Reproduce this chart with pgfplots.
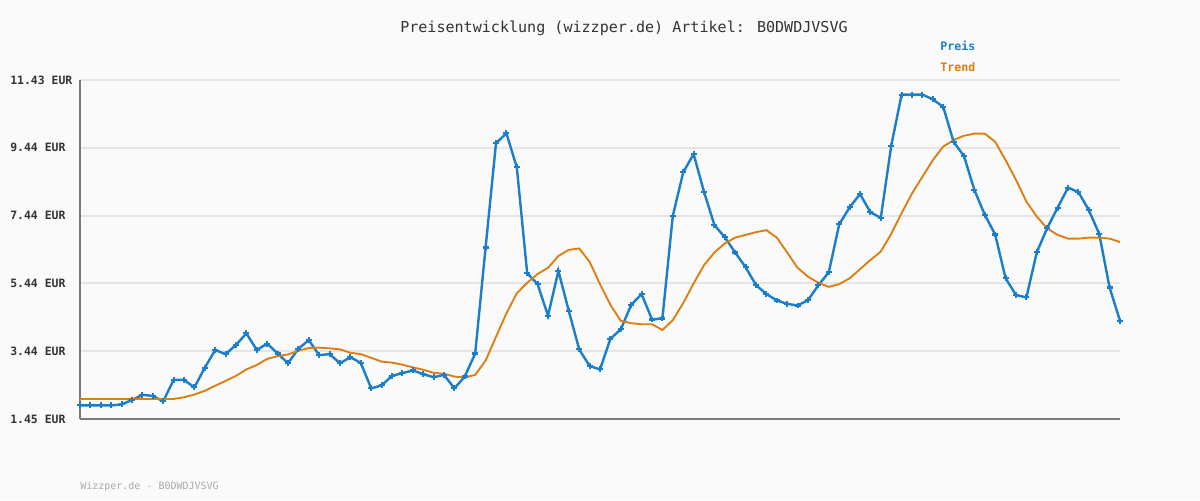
\documentclass[border=0pt]{standalone}
\usepackage{pgfplots}
\pgfplotsset{compat=1.18}
\usepackage{fontspec}
\setmainfont{DejaVu Sans Mono}

\definecolor{bgcol}{HTML}{FAFAFA}
\definecolor{gridcol}{HTML}{E5E5E5}
\definecolor{axiscol}{HTML}{7A7A7A}
\definecolor{preis}{HTML}{1A7ECB}
\definecolor{trend}{HTML}{DF7E10}
\definecolor{labelcol}{HTML}{333333}
\definecolor{footcol}{HTML}{AAAAAA}

% Preisverlauf, ein Punkt pro Index
\pgfplotstableread{
x y
0 1.85
1 1.85
2 1.85
3 1.85
4 1.88
5 2.01
6 2.16
7 2.13
8 1.97
9 2.60
10 2.60
11 2.38
12 2.96
13 3.48
14 3.36
15 3.63
16 3.97
17 3.48
18 3.67
19 3.38
20 3.09
21 3.52
22 3.77
23 3.33
24 3.36
25 3.09
26 3.27
27 3.10
28 2.35
29 2.44
30 2.72
31 2.80
32 2.88
33 2.77
34 2.68
35 2.75
36 2.35
37 2.70
38 3.38
39 6.50
40 9.57
41 9.86
42 8.86
43 5.74
44 5.42
45 4.49
46 5.81
47 4.63
48 3.50
49 3.01
50 2.91
51 3.81
52 4.09
53 4.81
54 5.13
55 4.38
56 4.41
57 7.43
58 8.71
59 9.25
60 8.14
61 7.16
62 6.80
63 6.35
64 5.92
65 5.39
66 5.13
67 4.94
68 4.84
69 4.79
70 4.95
71 5.39
72 5.77
73 7.18
74 7.68
75 8.07
76 7.54
77 7.37
78 9.49
79 11.00
80 11.00
81 11.00
82 10.86
83 10.64
84 9.61
85 9.19
86 8.19
87 7.46
88 6.88
89 5.59
90 5.10
91 5.03
92 6.36
93 7.07
94 7.67
95 8.26
96 8.13
97 7.60
98 6.90
99 5.32
100 4.34
}\preistable

% geglaetteter Trend
\pgfplotstableread{
x y
0 2.04
1 2.04
2 2.04
3 2.04
4 2.04
5 2.04
6 2.04
7 2.04
8 2.04
9 2.04
10 2.09
11 2.17
12 2.28
13 2.43
14 2.57
15 2.72
16 2.91
17 3.04
18 3.22
19 3.30
20 3.35
21 3.46
22 3.54
23 3.55
24 3.53
25 3.50
26 3.40
27 3.36
28 3.25
29 3.14
30 3.11
31 3.05
32 2.97
33 2.90
34 2.81
35 2.78
36 2.70
37 2.67
38 2.75
39 3.17
40 3.87
41 4.56
42 5.15
43 5.46
44 5.72
45 5.90
46 6.25
47 6.43
48 6.47
49 6.08
50 5.42
51 4.81
52 4.34
53 4.27
54 4.24
55 4.24
56 4.07
57 4.36
58 4.86
59 5.44
60 5.98
61 6.35
62 6.62
63 6.79
64 6.87
65 6.95
66 7.01
67 6.79
68 6.35
69 5.90
70 5.64
71 5.46
72 5.34
73 5.42
74 5.59
75 5.86
76 6.13
77 6.38
78 6.90
79 7.51
80 8.09
81 8.58
82 9.07
83 9.47
84 9.66
85 9.79
86 9.85
87 9.85
88 9.61
89 9.07
90 8.49
91 7.85
92 7.41
93 7.06
94 6.87
95 6.76
96 6.76
97 6.79
98 6.79
99 6.76
100 6.66
}\trendtable

\begin{document}
\begin{tikzpicture}
% 1px = 0.75pt, Bild 1200x500px
\fill[bgcol] (0,0) rectangle (900pt,375pt);
\path[use as bounding box] (0,0) rectangle (900pt,375pt);

\begin{axis}[
    at={(60pt,60.75pt)}, anchor=south west,
    scale only axis,
    width=780pt, height=254.25pt,
    xmin=0, xmax=100,
    ymin=1.45, ymax=11.43,
    axis x line=bottom, axis y line=left,
    axis line style={-, axiscol, line width=1.5pt},
    xtick=\empty,
    ytick={1.45,3.44,5.44,7.44,9.44,11.43},
    yticklabels={1.45 EUR,3.44 EUR,5.44 EUR,7.44 EUR,9.44 EUR,11.43 EUR},
    yticklabel style={anchor=west, xshift=-52.5pt, inner sep=0pt,
        font=\fontsize{8.6pt}{10pt}\selectfont\bfseries, text=labelcol},
    major tick length=0pt,
    ymajorgrids=true,
    grid style={gridcol, line width=1.5pt},
    clip=false,
    legend image code/.code={},
    legend cell align=left,
    legend style={draw=none, fill=none, at={(axis description cs:0.827,1.115)},
        anchor=north west, inner sep=0pt, row sep=6.75pt,
        nodes={inner sep=0pt, text height=7pt, text depth=2pt},
        font=\fontsize{8.75pt}{10pt}\selectfont\bfseries},
]
\addplot[preis, line width=1.8pt, mark=+, mark size=2.2pt,
    mark options={line width=1.6pt}] table[x=x,y=y] {\preistable};
\addlegendentry{\textcolor{preis}{Preis}}
\addplot[trend, line width=1.4pt] table[x=x,y=y] {\trendtable};
\addlegendentry{\textcolor{trend}{Trend}}
\end{axis}

\node[text=labelcol, font=\fontsize{11.3pt}{13pt}\selectfont] at (468pt,354pt)
    {Preisentwicklung (wizzper.de) Artikel: B0DWDJVSVG};
\node[anchor=west, inner sep=0pt, text=footcol, font=\fontsize{7.5pt}{9pt}\selectfont]
    at (60pt,9.75pt) {Wizzper.de - B0DWDJVSVG};
\end{tikzpicture}
\end{document}
